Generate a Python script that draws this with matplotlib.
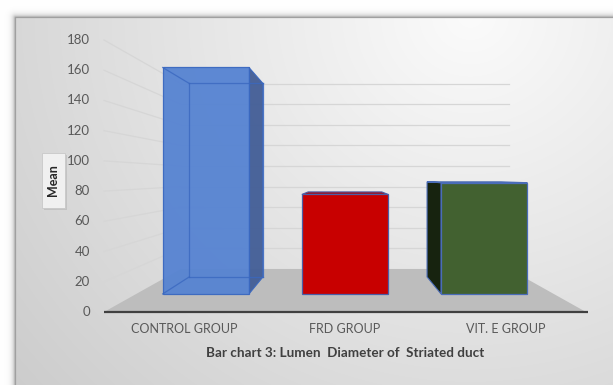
import numpy as np
import matplotlib
matplotlib.use("Agg")
import matplotlib.pyplot as plt
from matplotlib.patches import Polygon, Rectangle

plt.rcParams['font.family'] = ['Lato', 'DejaVu Sans']

# ---- data -------------------------------------------------------------
categories = ["CONTROL GROUP", "FRD GROUP", "VIT. E GROUP"]
means = [173, 76, 85]
y_ticks = [0, 20, 40, 60, 80, 100, 120, 140, 160, 180]
y_label = "Mean"
title = "Bar chart 3: Lumen  Diameter of  Striated duct"

face_colors = ["#5683d2", "#c80000", "#426130"]
side_colors = ["#425d96", "#8a0a10", "#17230f"]
top_colors = ["#6f95da", "#a3101c", "#4d6e38"]
edge_colors = ["#3a68c0", "#4a5fa8", "#4a6cb8"]
face_alpha = [0.95, 1.0, 1.0]

# ---- 3-D scene geometry (perspective projection) ----------------------
W, H = 613, 385
FX0, FX1 = 104.0, 586.0          # front edge of the floor
FY0 = 312.0                      # front baseline
PX_PER_UNIT = (312.0 - 40.0) / 180.0
VX, VY = 345.0, 177.0            # vanishing point
K = 0.468                        # depth foreshortening
BAR_HALF = 0.31                  # half bar width (category units)
D0, D1 = 0.33, 0.75              # bar depth span (0 = front, 1 = back wall)


def proj(u, v, d):
    """u: 0..1 across the floor, v: data value, d: depth 0..1."""
    X = FX0 + u * (FX1 - FX0)
    Y = FY0 - v * PX_PER_UNIT
    s = 1.0 / (1.0 + K * d)
    return VX + (X - VX) * s, VY + (Y - VY) * s


fig = plt.figure(figsize=(W / 100, H / 100), dpi=100)
ax = fig.add_axes([0, 0, 1, 1])
ax.set_xlim(0, W)
ax.set_ylim(H, 0)
ax.axis("off")

# ---- panel background with drop shadow --------------------------------
yy, xx = np.mgrid[0:H, 0:W].astype(float)
left, top = 15.0, 17.0
dx = np.clip(left - xx, 0, None)
dy = np.clip(top - yy, 0, None)
dist_out = np.hypot(dx, dy)
bg = 255 - 95 * np.exp(-dist_out / 2.5)
inside = (xx >= left) & (yy >= top)
grad = 251 - 0.078 * np.hypot(xx - 470, (yy - 15) * 1.05)
grad = np.clip(grad, 203, 251)
bg = np.where(inside, grad, bg)
img = np.dstack([bg, bg, bg]) / 255.0
ax.imshow(img, extent=[0, W, H, 0], zorder=0, interpolation="bilinear")
ax.add_patch(Rectangle((left, top), W - left + 5, H - top + 5, fill=False,
                       edgecolor="#a0a0a0", lw=0.9, zorder=1))

grid_c = "#d6d6d6"
# back wall and side wall gridlines
for v in y_ticks[1:]:
    x0, y0 = proj(0, v, 1)
    x1, y1 = proj(1, v, 1)
    ax.plot([x0, x1], [y0, y1], color=grid_c, lw=0.9, zorder=2)
    xf, yf = proj(0, v, 0)
    ax.plot([xf, x0], [yf, y0], color=grid_c, lw=0.9, zorder=2)

# floor
floor = [proj(0, 0, 0), proj(1, 0, 0), proj(1, 0, 1), proj(0, 0, 1)]
ax.add_patch(Polygon(floor, closed=True, facecolor="#bdbdbd",
                     edgecolor="none", zorder=3))
fx0, fy0 = proj(0, 0, 0)
fx1, _ = proj(1, 0, 0)
ax.plot([fx0, fx1 + 2], [fy0, fy0], color="#404040", lw=1.6, zorder=4,
        solid_capstyle="butt")

# ---- bars ---------------------------------------------------------------
n = len(categories)
for i, val in enumerate(means):
    u0 = (i + 0.5 - BAR_HALF) / n
    u1 = (i + 0.5 + BAR_HALF) / n
    fl_b, fr_b = proj(u0, 0, D0), proj(u1, 0, D0)
    fl_t, fr_t = proj(u0, val, D0), proj(u1, val, D0)
    bl_b, br_b = proj(u0, 0, D1), proj(u1, 0, D1)
    bl_t, br_t = proj(u0, val, D1), proj(u1, val, D1)
    ec = edge_colors[i]
    z = 5

    # hidden edges seen through the translucent bar
    if face_alpha[i] < 1:
        for a, b in [(bl_b, br_b), (bl_t, br_t), (bl_b, bl_t), (br_b, br_t),
                     (fl_b, bl_b), (fl_t, bl_t)]:
            ax.plot([a[0], b[0]], [a[1], b[1]], color=ec, lw=0.9, alpha=0.8,
                    zorder=z + 2)

    # side face
    x_left_front = FX0 + u0 * (FX1 - FX0)
    x_right_front = FX0 + u1 * (FX1 - FX0)
    if x_right_front < VX - 1:
        side = [fr_b, fr_t, br_t, br_b]
    elif x_left_front > VX + 1:
        side = [fl_b, fl_t, bl_t, bl_b]
    else:
        side = None
    if side is not None:
        ax.add_patch(Polygon(side, closed=True, facecolor=side_colors[i],
                             edgecolor=ec, lw=0.8, alpha=face_alpha[i],
                             zorder=z))
    # top face (visible when below eye level)
    if fl_t[1] > VY:
        ax.add_patch(Polygon([fl_t, fr_t, br_t, bl_t], closed=True,
                             facecolor=top_colors[i], edgecolor=ec, lw=0.8,
                             zorder=z))
    # front face
    ax.add_patch(Polygon([fl_b, fr_b, fr_t, fl_t], closed=True,
                         facecolor=face_colors[i], edgecolor=ec, lw=0.9,
                         alpha=face_alpha[i], zorder=z + 1))

# ---- text ---------------------------------------------------------------
for v in y_ticks:
    x, y = proj(0, v, 0)
    ax.text(x - 14, y, str(v), ha="right", va="center", fontsize=9.5,
            color="#595959", zorder=10)

for i, cat in enumerate(categories):
    x, _ = proj((i + 0.5) / n, 0, 0)
    ax.text(x, 329, cat, ha="center", va="center", fontsize=9,
            color="#595959", zorder=10)

ax.text(345, 353, title, ha="center", va="center", fontsize=9.7,
        fontweight="bold", color="#404040", zorder=10)

# y-axis title in a small box
ax.add_patch(Rectangle((43.5, 154.5), 23, 55, facecolor="#b0b0b0",
                       edgecolor="none", alpha=0.5, zorder=9))
ax.add_patch(Rectangle((42, 153), 23, 55, facecolor="#f0f0f0",
                       edgecolor="#c8c8c8", lw=0.6, zorder=9))
ax.text(53.5, 180.5, y_label, rotation=90, ha="center", va="center",
        fontsize=9, fontweight="bold", color="#262626", zorder=10)

fig.savefig("out.png", dpi=100)
